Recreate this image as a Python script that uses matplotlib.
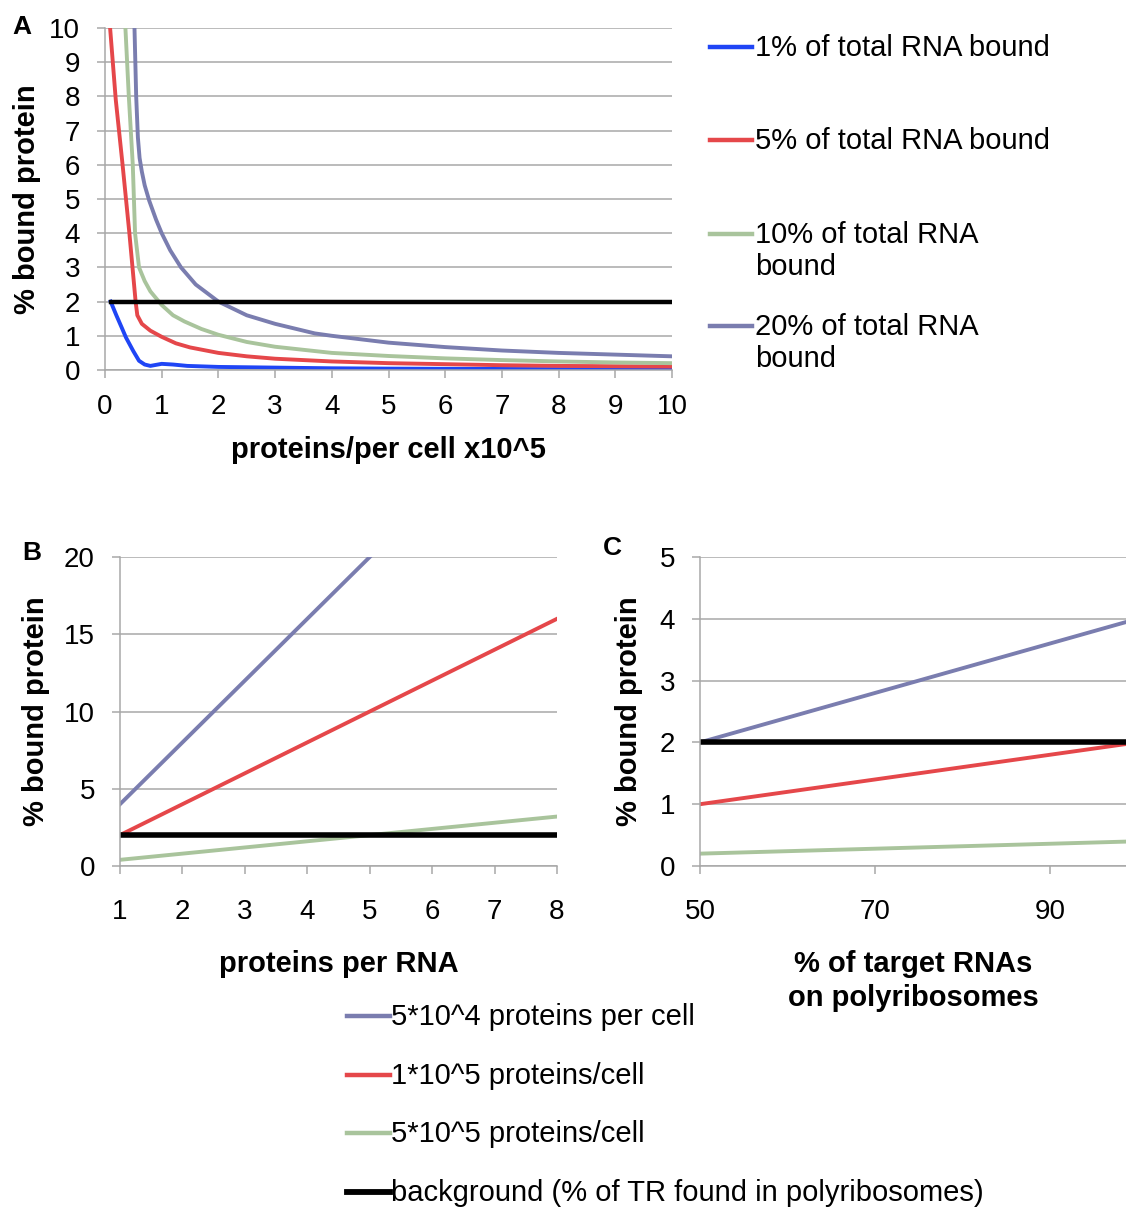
import matplotlib.pyplot as plt
from matplotlib.lines import Line2D

plt.rcParams['font.family'] = ['Liberation Sans', 'DejaVu Sans']

# Panel A: % bound protein vs proteins per cell (x10^5)
a_blue_x = [0.1, 0.2, 0.3, 0.37, 0.5, 0.6, 0.7, 0.8, 0.9, 1.0, 1.2, 1.45, 2, 2.5, 3, 4, 5, 6, 7, 8, 9, 10]
a_blue_y = [2.0, 1.6, 1.22, 0.95, 0.55, 0.27, 0.16, 0.12, 0.15, 0.18, 0.16, 0.12, 0.09, 0.08, 0.07, 0.05, 0.04, 0.035, 0.03, 0.025, 0.022, 0.02]
a_red_x = [0.09, 0.19, 0.31, 0.43, 0.54, 0.57, 0.65, 0.8, 1.0, 1.25, 1.5, 2, 2.5, 3, 4, 5, 6, 7, 8, 9, 10]
a_red_y = [10, 7.9, 6.0, 4.0, 2.0, 1.6, 1.35, 1.15, 0.97, 0.78, 0.66, 0.5, 0.4, 0.33, 0.25, 0.2, 0.17, 0.14, 0.12, 0.11, 0.1]
a_green_x = [0.36, 0.42, 0.49, 0.53, 0.6, 0.7, 0.8, 1.0, 1.2, 1.4, 1.7, 2, 2.5, 3, 4, 5, 6, 7, 8, 9, 10]
a_green_y = [10, 8.0, 6.0, 4.0, 3.0, 2.6, 2.3, 1.9, 1.6, 1.42, 1.2, 1.03, 0.82, 0.68, 0.5, 0.41, 0.34, 0.29, 0.25, 0.22, 0.2]
a_purple_x = [0.52, 0.55, 0.58, 0.61, 0.65, 0.7, 0.78, 0.9, 1.0, 1.15, 1.34, 1.6, 2, 2.5, 3, 3.7, 4, 5, 6, 7, 8, 9, 10]
a_purple_y = [10, 8.0, 6.8, 6.2, 5.8, 5.4, 4.95, 4.4, 4.0, 3.5, 3.0, 2.5, 2.0, 1.6, 1.35, 1.07, 1.0, 0.8, 0.67, 0.57, 0.5, 0.45, 0.4]
a_bg_x = [0.1, 10]
a_bg_y = [2, 2]
a_labels = ['1% of total RNA bound', '5% of total RNA bound',
            '10% of total RNA\nbound', '20% of total RNA\nbound']

# Panel B: % bound protein vs proteins per RNA
b_x = [1, 2, 3, 4, 5, 6, 7, 8]
b_purple = [4, 8, 12, 16, 20, 24, 28, 32]
b_red = [2, 4, 6, 8, 10, 12, 14, 16]
b_green = [0.4, 0.8, 1.2, 1.6, 2.0, 2.4, 2.8, 3.2]
b_bg = [2, 2, 2, 2, 2, 2, 2, 2]

# Panel C: % bound protein vs % of target RNAs on polyribosomes
c_x = [50, 60, 70, 80, 90, 100]
c_purple = [2.0, 2.4, 2.8, 3.2, 3.6, 4.0]
c_red = [1.0, 1.2, 1.4, 1.6, 1.8, 2.0]
c_green = [0.2, 0.24, 0.28, 0.32, 0.36, 0.4]
c_bg = [2, 2, 2, 2, 2, 2]
bc_labels = ['5*10^4 proteins per cell', '1*10^5 proteins/cell',
             '5*10^5 proteins/cell', 'background (% of TR found in polyribosomes)']

BLUE = '#1f45f5'
RED = '#e5474a'
GREEN = '#a9c49c'
PURPLE = '#7a7daf'
GRID = '#a8a8a8'
W, H = 1126, 1207
LW = 2.8
FS_TICK = 20
FS_LAB = 21
FS_LEG = 21

fig = plt.figure(figsize=(W / 100, H / 100), dpi=100)


def box(l, t, r, b):
    return [l / W, 1 - b / H, (r - l) / W, (b - t) / H]


def style(ax, xpad=12):
    for s in ['top', 'right']:
        ax.spines[s].set_visible(False)
    for s in ['left', 'bottom']:
        ax.spines[s].set_color(GRID)
        ax.spines[s].set_linewidth(1.1)
    ax.grid(True, axis='y', color=GRID, linewidth=1.1)
    ax.set_axisbelow(True)
    ax.tick_params(direction='out', length=6, width=1.1, color=GRID,
                   labelsize=FS_TICK, pad=12)
    ax.tick_params(axis='x', pad=xpad)


# ---- A ----
axA = fig.add_axes(box(105, 28, 672, 370))
style(axA, xpad=11)
axA.plot(a_blue_x, a_blue_y, color=BLUE, lw=LW)
axA.plot(a_red_x, a_red_y, color=RED, lw=LW)
axA.plot(a_green_x, a_green_y, color=GREEN, lw=LW)
axA.plot(a_purple_x, a_purple_y, color=PURPLE, lw=LW)
axA.plot(a_bg_x, a_bg_y, color='black', lw=3.2)
axA.set_xlim(0, 10)
axA.set_ylim(0, 10)
axA.set_xticks(range(0, 11))
axA.set_yticks(range(0, 11))
axA.set_xlabel('proteins/per cell x10^5', fontsize=FS_LAB, fontweight='bold', labelpad=12)
axA.set_ylabel('% bound protein', fontsize=FS_LAB, fontweight='bold', labelpad=6)

# ---- B ----
axB = fig.add_axes(box(120, 557, 557, 866))
style(axB, xpad=18)
axB.plot(b_x, b_purple, color=PURPLE, lw=LW)
axB.plot(b_x, b_red, color=RED, lw=LW)
axB.plot(b_x, b_green, color=GREEN, lw=LW)
axB.plot(b_x, b_bg, color='black', lw=4.0)
axB.set_xlim(1, 8)
axB.set_ylim(0, 20)
axB.set_xticks(b_x)
axB.set_yticks([0, 5, 10, 15, 20])
axB.set_xlabel('proteins per RNA', fontsize=FS_LAB, fontweight='bold', labelpad=18)
axB.set_ylabel('% bound protein', fontsize=FS_LAB, fontweight='bold', labelpad=10)

# ---- C ----
axC = fig.add_axes(box(700, 557, 1126, 866))
style(axC, xpad=18)
axC.plot(c_x, c_purple, color=PURPLE, lw=LW)
axC.plot(c_x, c_red, color=RED, lw=LW)
axC.plot(c_x, c_green, color=GREEN, lw=LW)
axC.plot(c_x, c_bg, color='black', lw=4.0)
axC.set_xlim(50, 50 + 426 / 8.75)
axC.set_ylim(0, 5)
axC.set_xticks([50, 70, 90])
axC.set_yticks(range(0, 6))
axC.set_xlabel('% of target RNAs\non polyribosomes', fontsize=FS_LAB,
               fontweight='bold', labelpad=18, linespacing=1.25)
axC.set_ylabel('% bound protein', fontsize=FS_LAB, fontweight='bold', labelpad=12)

# panel letters
fig.text(12 / W, 1 - 27 / H, 'A', fontsize=19, fontweight='bold', va='center')
fig.text(22 / W, 1 - 553 / H, 'B', fontsize=19, fontweight='bold', va='center')
fig.text(603 / W, 1 - 548 / H, 'C', fontsize=19, fontweight='bold', va='center')

# legend A (handle aligned with first text line)
for y, c, t in zip([47, 140, 234, 326], [BLUE, RED, GREEN, PURPLE], a_labels):
    fig.add_artist(Line2D([710 / W, 752 / W], [1 - y / H, 1 - y / H],
                          color=c, lw=3.2, transform=fig.transFigure))
    fig.text(755 / W, 1 - (y - 13) / H, t, fontsize=FS_LEG, va='top', linespacing=1.2)

# legend B/C
for y, c, lw, t in zip([1016, 1075, 1133, 1192], [PURPLE, RED, GREEN, 'black'],
                       [3.2, 3.2, 3.2, 4.2], bc_labels):
    fig.add_artist(Line2D([347 / W, 390 / W], [1 - y / H, 1 - y / H],
                          color=c, lw=lw, transform=fig.transFigure))
    fig.text(391 / W, 1 - (y - 13) / H, t, fontsize=FS_LEG, va='top')

fig.savefig('out.png', dpi=100)
